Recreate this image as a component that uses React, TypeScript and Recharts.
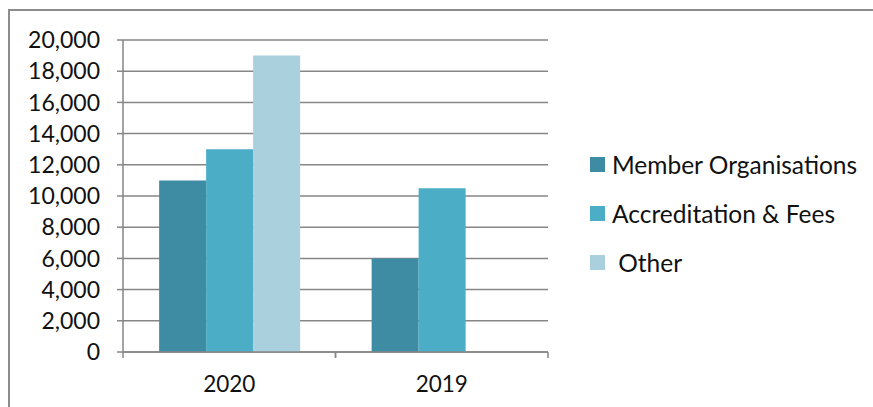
import { BarChart, Bar, XAxis, YAxis, CartesianGrid } from "recharts";

const years = ["2020", "2019"];
const memberOrganisations = [11000, 6000];
const accreditationFees = [13000, 10500];
const other = [19000, 0];
const yTicks = [0, 2000, 4000, 6000, 8000, 10000, 12000, 14000, 16000, 18000, 20000];

const data = years.map((year, i) => ({
  year,
  member: memberOrganisations[i],
  accreditation: accreditationFees[i],
  other: other[i],
}));

const series = [
  { key: "member", name: "Member Organisations", color: "#3d8ca4" },
  { key: "accreditation", name: "Accreditation & Fees", color: "#4badc6" },
  { key: "other", name: " Other", color: "#aacfdd" },
];

const FONT = "Lato, 'Open Sans', sans-serif";
const GRID = "#868686";

function YearTick(props: any) {
  const { x, y, payload } = props;
  const half = payload?.offset ?? 106;
  const axisY = y - 24;
  return (
    <g>
      <line x1={x - half} x2={x - half} y1={axisY} y2={axisY + 6} stroke={GRID} strokeWidth={1.5} />
      <line x1={x + half} x2={x + half} y1={axisY} y2={axisY + 6} stroke={GRID} strokeWidth={1.5} />
      <text x={x} y={y} dy="0.71em" textAnchor="middle" fill="#111" fontSize={22.5} fontFamily={FONT}>
        {payload.value}
      </text>
    </g>
  );
}

export default function App() {
  return (
    <div style={{ position: "fixed", left: 0, top: 0, width: 873, height: 407, overflow: "hidden", background: "#fff" }}>
      <div
        style={{
          position: "absolute",
          left: 8,
          top: 9,
          width: 900,
          height: 440,
          border: "2px solid #8c8c8c",
        }}
      />
      <div style={{ position: "absolute", left: 0, top: 0 }}>
        <BarChart
          width={873}
          height={407}
          data={data}
          margin={{ top: 40, right: 325, left: 0, bottom: 25 }}
          barCategoryGap="17%"
          barGap={0}
        >
          <CartesianGrid vertical={false} stroke={GRID} strokeWidth={1.5} />
          <XAxis
            dataKey="year"
            height={30}
            axisLine={{ stroke: GRID, strokeWidth: 1.5 }}
            tickLine={false}
            tickSize={0}
            tickMargin={24}
            tick={<YearTick />}
            interval={0}
          />
          <YAxis
            width={123}
            domain={[0, 20000]}
            ticks={yTicks}
            interval={0}
            axisLine={{ stroke: GRID, strokeWidth: 1.5 }}
            tickLine={{ stroke: GRID, strokeWidth: 1.5 }}
            tickSize={6}
            tickMargin={17}
            tick={{ fill: "#111", fontSize: 23, fontFamily: FONT }}
            tickFormatter={(v: number) => v.toLocaleString("en-US")}
          />
          {series.map((s) => (
            <Bar key={s.key} dataKey={s.key} name={s.name} fill={s.color} isAnimationActive={false} />
          ))}
        </BarChart>
      </div>
      <div style={{ position: "absolute", left: 590, top: 140, fontFamily: FONT, fontSize: 24.5, color: "#111" }}>
        {series.map((s) => (
          <div key={s.key} style={{ display: "flex", alignItems: "center", height: 49 }}>
            <span style={{ width: 15, height: 15, background: s.color, display: "inline-block", marginRight: 7, flexShrink: 0 }} />
            <span style={{ whiteSpace: "pre" }}>{s.name}</span>
          </div>
        ))}
      </div>
    </div>
  );
}
